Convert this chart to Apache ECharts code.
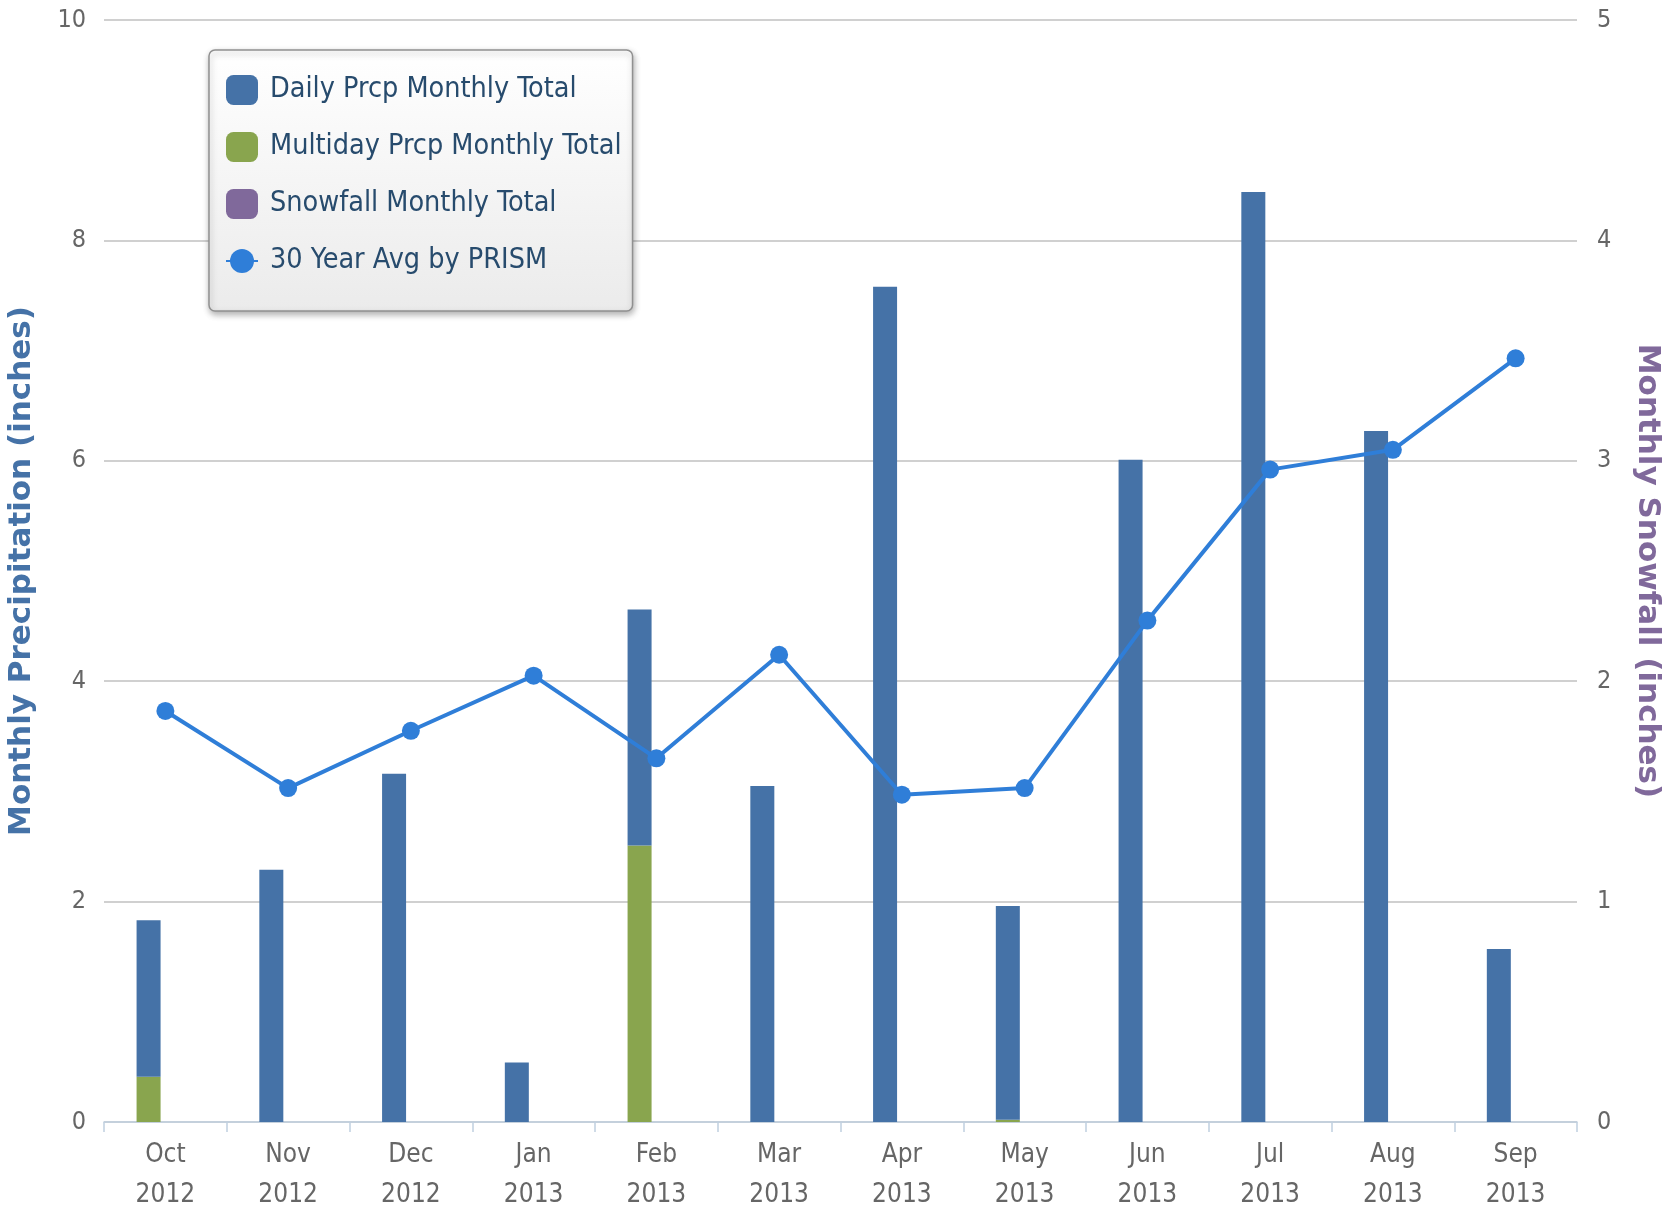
<!DOCTYPE html>
<html>
<head>
<meta charset="utf-8">
<script src="https://cdn.jsdelivr.net/npm/echarts@6.0.0/dist/echarts.min.js"></script>
<style>
  html, body { margin: 0; padding: 0; background: #fff; }
  #chart { width: 1673px; height: 1209px; }
</style>
</head>
<body>
<div id="chart"></div>
<script>
// months on the x axis
var months = ['Oct\n2012', 'Nov\n2012', 'Dec\n2012', 'Jan\n2013', 'Feb\n2013', 'Mar\n2013',
              'Apr\n2013', 'May\n2013', 'Jun\n2013', 'Jul\n2013', 'Aug\n2013', 'Sep\n2013'];
// inches, left axis
var dailyPrcp = [1.42, 2.29, 3.16, 0.54, 2.14, 3.05, 7.58, 1.94, 6.01, 8.44, 6.27, 1.57];
var multidayPrcp = [0.41, 0, 0, 0, 2.51, 0, 0, 0.02, 0, 0, 0, 0];
var prismAvg = [3.73, 3.03, 3.55, 4.05, 3.30, 4.24, 2.97, 3.03, 4.55, 5.92, 6.10, 6.93];
// inches, right axis
var snowfall = [0, 0, 0, 0, 0, 0, 0, 0, 0, 0, 0, 0];

var legendNames = ['Daily Prcp Monthly Total', 'Multiday Prcp Monthly Total',
                   'Snowfall Monthly Total', '30 Year Avg by PRISM'];

var narrow = '"DejaVu Sans Condensed", sans-serif';

var myChart = echarts.init(document.getElementById('chart'));

var option = {
    animation: false,
    backgroundColor: '#fff',
    grid: {
        left: 104,
        right: 96,
        top: 20,
        bottom: 87,
        outerBoundsMode: 'none',
        containLabel: false
    },
    legend: {
        orient: 'vertical',
        left: 209,
        top: 50,
        data: legendNames,
        itemWidth: 32,
        itemHeight: 30,
        itemGap: 27,
        padding: [25, 11, 35, 16],
        borderColor: '#909090',
        borderWidth: 1.5,
        borderRadius: 6,
        backgroundColor: {
            type: 'linear', x: 0, y: 0, x2: 0, y2: 1,
            colorStops: [{offset: 0, color: '#ffffff'}, {offset: 1, color: '#ebebeb'}]
        },
        shadowColor: 'rgba(0,0,0,0.3)',
        shadowBlur: 6,
        shadowOffsetX: 1,
        shadowOffsetY: 3,
        textStyle: {
            color: '#274b6d',
            fontFamily: narrow,
            fontSize: 28.5,
            lineHeight: 30,
            padding: [0, 0, 0, 7]
        }
    },
    xAxis: {
        type: 'category',
        data: months,
        axisLine: { lineStyle: { color: '#C0D0E0', width: 1.5 } },
        axisTick: { show: true, length: 10, lineStyle: { color: '#C0D0E0', width: 1.5 } },
        axisLabel: {
            color: '#666',
            fontFamily: narrow,
            fontSize: 26,
            lineHeight: 40,
            margin: 13
        }
    },
    yAxis: [
        {
            type: 'value',
            min: 0,
            max: 10,
            interval: 2,
            name: 'Monthly Precipitation (inches)',
            nameLocation: 'middle',
            nameGap: 67,
            nameTextStyle: {
                color: '#4572A7',
                fontFamily: '"DejaVu Sans", sans-serif',
                fontWeight: 'bold',
                fontSize: 31
            },
            axisLine: { show: false },
            axisTick: { show: false },
            splitLine: { lineStyle: { color: '#C0C0C0', width: 1.5 } },
            axisLabel: {
                color: '#666',
                fontFamily: narrow,
                fontSize: 25,
                margin: 18
            }
        },
        {
            type: 'value',
            min: 0,
            max: 5,
            interval: 1,
            name: 'Monthly Snowfall (inches)',
            nameLocation: 'middle',
            nameGap: 55,
            nameRotate: -90,
            nameTextStyle: {
                color: '#80699B',
                fontFamily: '"DejaVu Sans", sans-serif',
                fontWeight: 'bold',
                fontSize: 31
            },
            axisLine: { show: false },
            axisTick: { show: false },
            splitLine: { show: false },
            axisLabel: {
                color: '#666',
                fontFamily: narrow,
                fontSize: 25,
                margin: 20
            }
        }
    ],
    series: [
        {
            name: 'Multiday Prcp Monthly Total',
            type: 'bar',
            stack: 'prcp',
            barWidth: 24,
            barGap: '40%',
            itemStyle: { color: '#89A54E' },
            data: multidayPrcp
        },
        {
            name: 'Daily Prcp Monthly Total',
            type: 'bar',
            stack: 'prcp',
            barWidth: 24,
            itemStyle: { color: '#4572A7' },
            data: dailyPrcp
        },
        {
            name: 'Snowfall Monthly Total',
            type: 'bar',
            yAxisIndex: 1,
            barWidth: 24,
            barGap: '40%',
            itemStyle: { color: '#80699B' },
            data: snowfall
        },
        {
            name: '30 Year Avg by PRISM',
            type: 'line',
            z: 5,
            symbol: 'circle',
            symbolSize: 18,
            itemStyle: { color: '#2f7ed8' },
            lineStyle: { color: '#2f7ed8', width: 4 },
            data: prismAvg
        }
    ]
};

myChart.setOption(option);
</script>
</body>
</html>
